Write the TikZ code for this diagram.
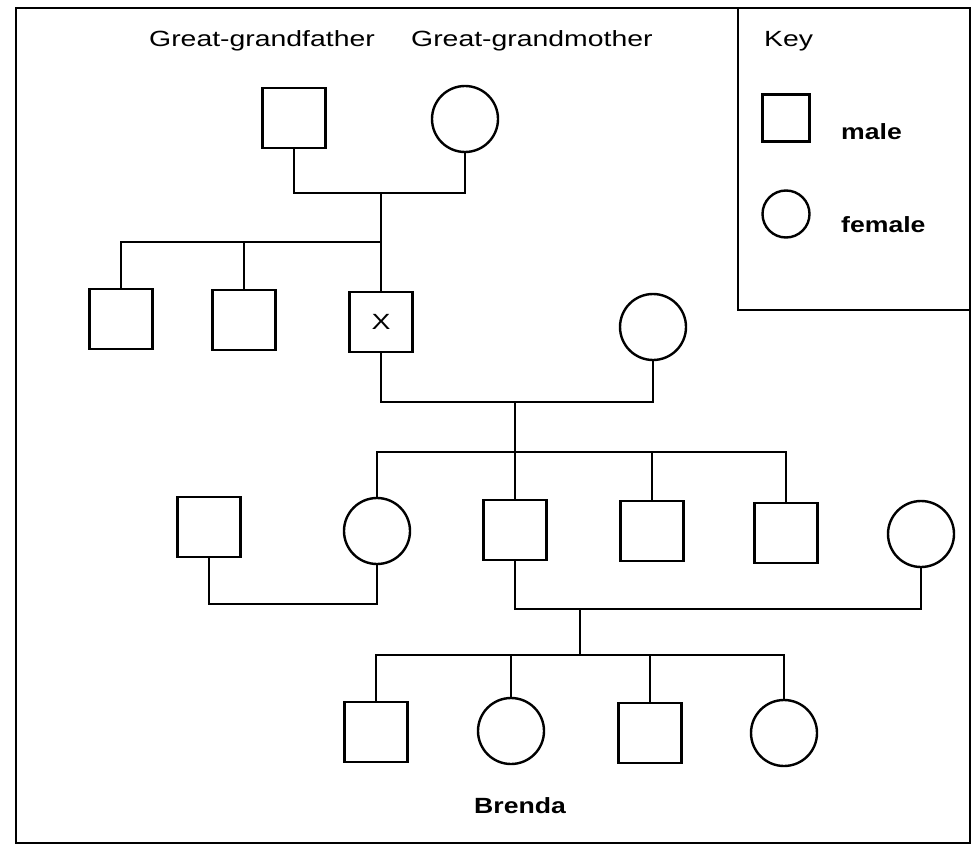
\documentclass[tikz,border=0pt]{standalone}
\usepackage{fontspec}
\setmainfont{Liberation Sans}[FakeStretch=1.29,BoldFeatures={FakeStretch=1.21}]

\begin{document}
\begin{tikzpicture}[x=0.5pt,y=-0.5pt,line width=1.2pt,
    male/.style={draw,minimum width=31.5pt,minimum height=30pt,inner sep=0pt,
      font=\fontsize{11}{13}\selectfont},
    female/.style={draw,circle,minimum size=33pt,inner sep=0pt},
    lbl/.style={anchor=base west,inner sep=0pt,font=\fontsize{11}{13}\selectfont},
    blbl/.style={lbl,font=\fontsize{11}{13}\selectfont\bfseries}
  ]
  \useasboundingbox (0,0) rectangle (973,845);
  \draw (16,8) rectangle (970,843);
  \draw (738,8) -- (738,310) -- (970,310);

  \node[lbl] (ggflbl) at (148,47) {Great-grandfather};
  \node[lbl] (ggmlbl) at (410,47) {Great-grandmother};
  \node[lbl] (key) at (763,47) {Key};
  \node[male,minimum width=23.5pt,minimum height=23.5pt] (keym) at (786,118) {};
  \node[female,minimum size=23.5pt] (keyf) at (786,214) {};
  \node[blbl] (keymlbl) at (840,140) {male};
  \node[blbl] (keyflbl) at (840,233) {female};

  \node[male] (ggf) at (294,118) {};
  \node[female] (ggm) at (465,119) {};

  \node[male] (g2a) at (121,319) {};
  \node[male] (g2b) at (244,320) {};
  \node[male] (x) at (381,322) {X};
  \node[female] (wife) at (653,327) {};

  \node[male] (spouse) at (209,527) {};
  \node[female] (aunt) at (377,531) {};
  \node[male] (dad) at (515,530) {};
  \node[male] (unc1) at (652,531) {};
  \node[male] (unc2) at (786,533) {};
  \node[female] (mom) at (921,534) {};

  \node[male] (k1) at (376,732) {};
  \node[female] (k2) at (511,731) {};
  \node[male] (k3) at (650,733) {};
  \node[female] (k4) at (784,733) {};
  \node[blbl] (brenda) at (473,813) {Brenda};

  \coordinate (m1) at (381,193);
  \coordinate (s1) at (381,242);
  \draw (ggf) |- (m1) -| (ggm);
  \draw (m1) -- (x);
  \draw (g2a) |- (s1);
  \draw (g2b) -- (g2b |- s1);

  \coordinate (m2) at (515,402);
  \coordinate (s2) at (515,452);
  \draw (x) |- (m2) -| (wife);
  \draw (m2) -- (dad);
  \draw (aunt) |- (s2) -| (unc2);
  \draw (unc1) -- (unc1 |- s2);

  \coordinate (m3) at (290,604);
  \draw (spouse) |- (m3) -| (aunt);

  \coordinate (m4) at (580,609);
  \coordinate (s4) at (580,655);
  \draw (dad) |- (m4) -| (mom);
  \draw (m4) -- (s4);
  \draw (k1) |- (s4) -| (k4);
  \draw (k2) -- (k2 |- s4);
  \draw (k3) -- (k3 |- s4);
\end{tikzpicture}
\end{document}
